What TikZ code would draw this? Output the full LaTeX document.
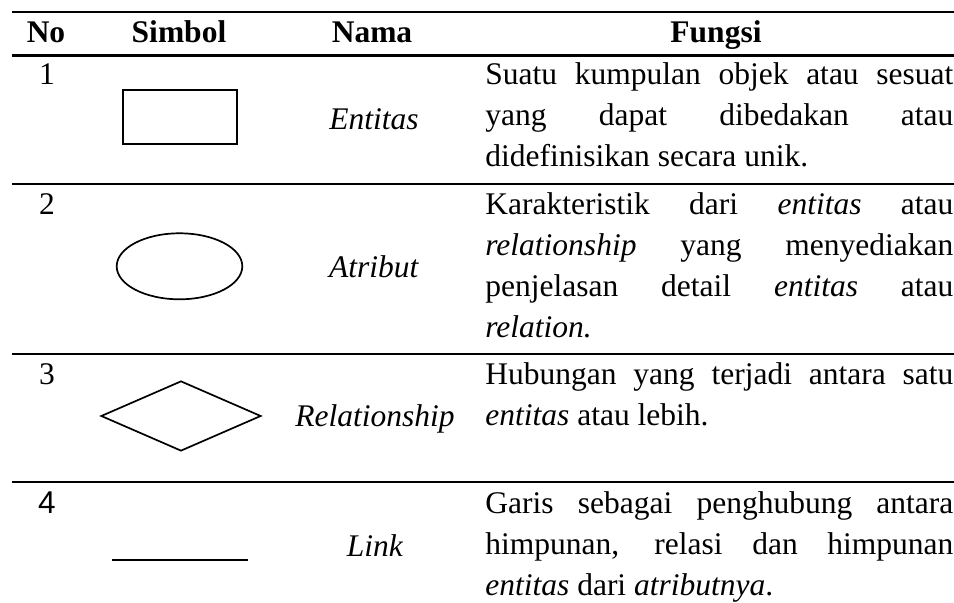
\documentclass[tikz,border=0pt]{standalone}
\usepackage{fontspec}
\setmainfont{Liberation Serif}
\newfontfamily\numsans{Liberation Sans}
\usetikzlibrary{shapes.geometric}
\tolerance=10000
\hyphenpenalty=10000
\hbadness=10000

\begin{document}
\begin{tikzpicture}[x=0.5pt,y=-0.5pt,
    txt/.style={inner sep=0pt,font=\fontsize{15.75}{20.5}\selectfont},
    head/.style={txt,anchor=base,font=\fontsize{15.75}{20.5}\selectfont\bfseries},
    fungsi/.style={txt,anchor=base west,text width=234pt,align=justify},
    rule/.style={line width=1.1pt},
    sym/.style={draw,line width=0.85pt,inner sep=0pt}]
        \useasboundingbox (0,0) rectangle (954,603);
        \foreach \y in {12,55.5,184,354,482}
            \draw[rule] (12,\y)--(954,\y);
        \node[head] (no) at (46,43) {No};
        \node[head] (simbol) at (179,43) {Simbol};
        \node[head] (nama) at (372,43) {Nama};
        \node[head] (fungsi) at (716,43) {Fungsi};
        \node[txt,anchor=base] (n1) at (47,85) {1};
        \node[txt,anchor=base] (n2) at (47,215) {2};
        \node[txt,anchor=base] (n3) at (47,385) {3};
        \node[txt,anchor=base] (n4) at (47,514) {\numsans 4};
        \node[sym,minimum width=57pt,minimum height=27pt] (kotak) at (180,117) {};
        \node[sym,ellipse,minimum width=62.8pt,minimum height=33pt] (elips) at (179.5,266.3) {};
        \node[sym,diamond,minimum width=80pt,minimum height=35pt] (belah) at (181,416) {};
        \draw[line width=1pt] (112,560) coordinate (garisA)--(248,560) coordinate (garisB);
        \node[txt,anchor=base] (entitas) at (374,130) {\textit{Entitas}};
        \node[txt,anchor=base] (atribut) at (374,278) {\textit{Atribut}};
        \node[txt,anchor=base] (relasi) at (375,427) {\textit{Relationship}};
        \node[txt,anchor=base] (link) at (375,557) {\textit{Link}};
        \node[fungsi] (f1) at (485,85) {Suatu kumpulan objek atau sesuat\linebreak yang dapat dibedakan atau\linebreak didefinisikan secara unik.};
        \node[fungsi] (f2) at (485,215) {Karakteristik dari \textit{entitas} atau\linebreak \textit{relationship} yang menyediakan\linebreak penjelasan detail \textit{entitas} atau\linebreak \textit{relation.}};
        \node[fungsi] (f3) at (485,385) {Hubungan yang terjadi antara satu\linebreak \textit{entitas} atau lebih.};
        \node[fungsi] (f4) at (485,514) {Garis sebagai penghubung antara\linebreak himpunan, relasi dan himpunan\linebreak \textit{entitas} dari \textit{atributnya}.};
    \end{tikzpicture}
\end{document}
